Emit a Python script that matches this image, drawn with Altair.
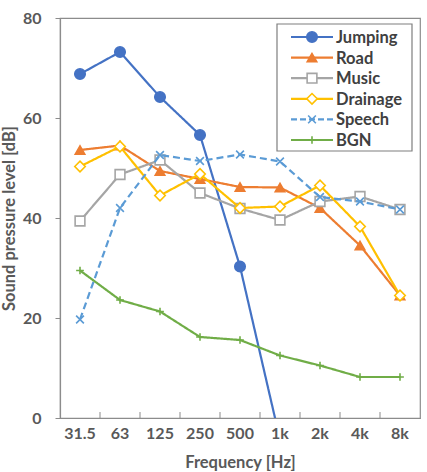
import altair as alt
import pandas as pd

# Octave-band centre frequencies
freqs = ["31.5", "63", "125", "250", "500", "1k", "2k", "4k", "8k"]

# Sound pressure level [dB] per source
jumping = [68.8, 73.2, 64.2, 56.6, 30.3, -4.3]
road = [53.6, 54.5, 49.4, 47.8, 46.2, 46.1, 42.0, 34.5, 24.5]
music = [39.4, 48.7, 51.6, 45.0, 41.9, 39.6, 43.3, 44.3, 41.7]
drainage = [50.3, 54.3, 44.5, 48.8, 42.0, 42.3, 46.5, 38.3, 24.5]
speech = [19.7, 42.0, 52.6, 51.4, 52.7, 51.3, 44.2, 43.3, 41.7]
bgn = [29.5, 23.6, 21.3, 16.2, 15.6, 12.5, 10.5, 8.2, 8.2]

series_names = ["Jumping", "Road", "Music", "Drainage", "Speech", "BGN"]
series_values = [jumping, road, music, drainage, speech, bgn]

X_PATH = "M-1,-1L1,1M-1,1L1,-1"
PLUS_PATH = "M-1,0L1,0M0,-1L0,1"

styles = {
    "Jumping": dict(color="#4472C4", shape="circle", filled=True, fill="#4472C4", size=110, dash=[1, 0]),
    "Road": dict(color="#ED7D31", shape="triangle-up", filled=True, fill="#ED7D31", size=90, dash=[1, 0]),
    "Music": dict(color="#A5A5A5", shape="square", filled=False, fill="white", size=95, dash=[1, 0]),
    "Drainage": dict(color="#FFC000", shape="diamond", filled=False, fill="white", size=110, dash=[1, 0]),
    "Speech": dict(color="#5B9BD5", shape=X_PATH, filled=False, fill=None, size=60, dash=[7, 4]),
    "BGN": dict(color="#70AD47", shape=PLUS_PATH, filled=False, fill=None, size=60, dash=[1, 0]),
}

FONT = "Lato"
LABEL_COLOR = "#595959"
FRAME = "#8c8c8c"

x_enc = alt.X(
    "freq:O",
    sort=freqs,
    bandPosition=0.5,
    scale=alt.Scale(type="band", domain=freqs, paddingInner=0, paddingOuter=0),
    axis=alt.Axis(
        title="Frequency [Hz]",
        labelAngle=0,
        ticks=False,
        tickSize=0,
        labelPadding=7,
        titlePadding=13,
    ),
)
y_enc = alt.Y(
    "value:Q",
    scale=alt.Scale(domain=[0, 80], nice=False),
    axis=alt.Axis(
        title="Sound pressure level [dB]",
        values=[0, 20, 40, 60, 80],
        grid=False,
        tickSize=5,
        labelPadding=14,
        titlePadding=5,
    ),
)


def point_mark(st):
    kw = dict(shape=st["shape"], size=st["size"], stroke=st["color"], strokeWidth=1.6, opacity=1, clip=True)
    if st["filled"]:
        kw.update(filled=True, fill=st["fill"], color=st["color"])
    elif st["fill"] is not None:
        kw.update(filled=False, fill=st["fill"], fillOpacity=1)
    else:
        kw.update(filled=False)
    return alt.MarkDef(type="point", **kw)


layers = []
for name, vals in zip(series_names, series_values):
    st = styles[name]
    df = pd.DataFrame({"freq": freqs[: len(vals)], "value": vals, "series": name})
    layers.append(
        alt.Chart(df)
        .mark_line(color=st["color"], strokeWidth=2.2, strokeDash=st["dash"], clip=True)
        .encode(x=x_enc, y=y_enc)
    )
    layers.append(alt.Chart(df, mark=point_mark(st)).encode(x=x_enc, y=y_enc))

# x-axis tick marks between categories, pointing into the plot
tick_df = pd.DataFrame({"freq": freqs[1:]})
layers.append(
    alt.Chart(tick_df)
    .mark_rule(color=FRAME, strokeWidth=1)
    .encode(
        x=alt.X("freq:O", sort=freqs, bandPosition=0,
                scale=alt.Scale(type="band", domain=freqs, paddingInner=0, paddingOuter=0)),
        y=alt.datum(0),
        y2=alt.datum(1.2),
    )
)

# Legend box
one = pd.DataFrame({"k": [0]})
layers.append(
    alt.Chart(one)
    .mark_rect(fill="white", stroke="#7f7f7f", strokeWidth=1.2)
    .encode(x=alt.value(217), x2=alt.value(352), y=alt.value(6), y2=alt.value(133))
)
for i, name in enumerate(series_names):
    st = styles[name]
    yv = 19 + i * 20.6
    ldf = pd.DataFrame({"series": [name]})
    layers.append(
        alt.Chart(ldf)
        .mark_rule(color=st["color"], strokeWidth=2.2, strokeDash=[6, 3] if name == "Speech" else [1, 0])
        .encode(x=alt.value(231), x2=alt.value(273), y=alt.value(yv))
    )
    layers.append(alt.Chart(ldf, mark=point_mark(st)).encode(x=alt.value(252), y=alt.value(yv)))
    layers.append(
        alt.Chart(ldf)
        .mark_text(align="left", baseline="middle", font=FONT, fontSize=16.5, fontWeight="bold", color="#404040")
        .encode(x=alt.value(276), y=alt.value(yv + 1), text="series:N")
    )

chart = (
    alt.layer(*layers)
    .properties(
        width=360,
        height=400,
        padding={"left": 60, "top": 18, "right": 7, "bottom": 54},
        autosize=alt.AutoSizeParams(type="none"),
        background="white",
    )
    .configure_view(stroke=FRAME, strokeWidth=1.2)
    .configure_axis(
        domainColor=FRAME,
        domainWidth=1.2,
        tickColor=FRAME,
        labelFont=FONT,
        labelFontSize=16,
        labelFontWeight="bold",
        labelColor=LABEL_COLOR,
        titleFont=FONT,
        titleFontSize=16.5,
        titleFontWeight="bold",
        titleColor=LABEL_COLOR,
    )
)

chart.save("out.html", embed_options={"renderer": "svg", "actions": False})
